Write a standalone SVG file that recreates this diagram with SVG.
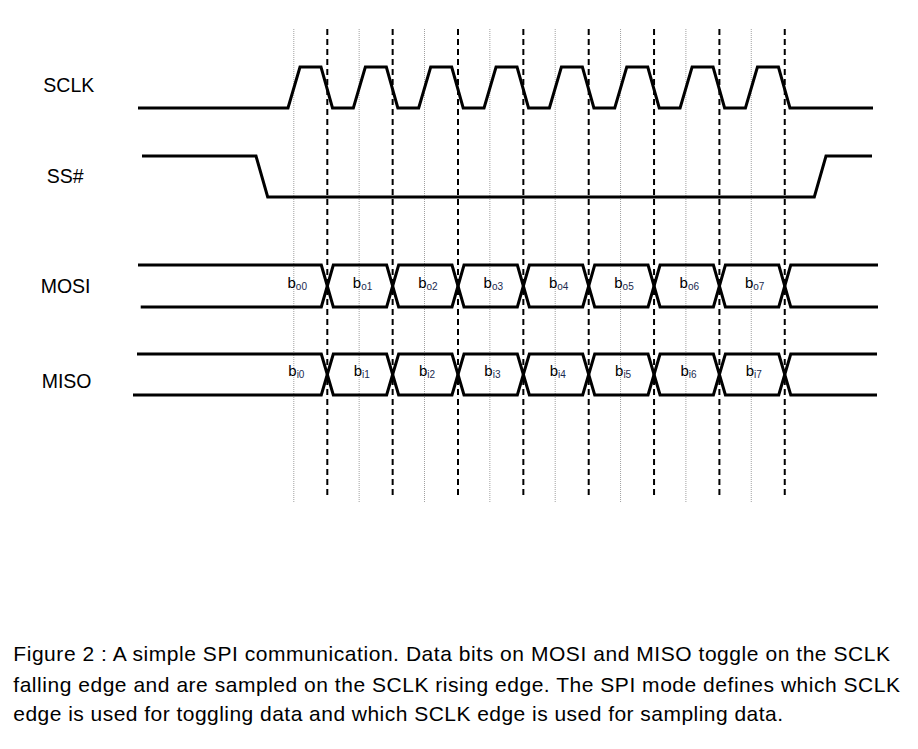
<svg xmlns="http://www.w3.org/2000/svg" width="918" height="749" viewBox="0 0 918 749">
<style>
.sig{fill:none;stroke:#000;stroke-width:3;stroke-linejoin:miter}
.dash{stroke:#000;stroke-width:2;stroke-dasharray:6 4}
.dot{stroke:#a0a0a0;stroke-width:1;stroke-dasharray:1 1}
.lbl{font-family:"Liberation Sans",Arial,sans-serif;font-size:19.5px;fill:#000}
.bit{font-family:"Liberation Sans",Arial,sans-serif;font-size:15px;fill:#000}
.sub{font-size:10px;fill:#1a2a50}
.cap{font-family:"Liberation Sans",Arial,sans-serif;font-size:21px;fill:#000}
</style>
<rect width="918" height="749" fill="#fff"/>
<g id="gridlines">
<g id="sample-lines">
<line class="dot" x1="293.8" y1="29" x2="293.8" y2="502"/>
<line class="dot" x1="359.15" y1="29" x2="359.15" y2="502"/>
<line class="dot" x1="424.5" y1="29" x2="424.5" y2="502"/>
<line class="dot" x1="489.85" y1="29" x2="489.85" y2="502"/>
<line class="dot" x1="555.2" y1="29" x2="555.2" y2="502"/>
<line class="dot" x1="620.55" y1="29" x2="620.55" y2="502"/>
<line class="dot" x1="685.9" y1="29" x2="685.9" y2="502"/>
<line class="dot" x1="751.25" y1="29" x2="751.25" y2="502"/>
</g>
<g id="toggle-lines">
<line class="dash" x1="327.3" y1="29" x2="327.3" y2="499"/>
<line class="dash" x1="392.65" y1="29" x2="392.65" y2="499"/>
<line class="dash" x1="458" y1="29" x2="458" y2="499"/>
<line class="dash" x1="523.35" y1="29" x2="523.35" y2="499"/>
<line class="dash" x1="588.7" y1="29" x2="588.7" y2="499"/>
<line class="dash" x1="654.05" y1="29" x2="654.05" y2="499"/>
<line class="dash" x1="719.4" y1="29" x2="719.4" y2="499"/>
<line class="dash" x1="784.75" y1="29" x2="784.75" y2="499"/>
</g>
</g>
<g id="sclk">
<text class="lbl" x="43.3" y="92.3">SCLK</text>
<path class="sig" d="M138,108 H288 L300,67 H321 L332.5,108 H353.35 L365.35,67 H386.35 L397.85,108 H418.7 L430.7,67 H451.7 L463.2,108 H484.05 L496.05,67 H517.05 L528.55,108 H549.4 L561.4,67 H582.4 L593.9,108 H614.75 L626.75,67 H647.75 L659.25,108 H680.1 L692.1,67 H713.1 L724.6,108 H745.45 L757.45,67 H778.45 L789.95,108 H873"/>
</g>
<g id="ss">
<text class="lbl" x="46.7" y="183.3">SS#</text>
<path class="sig" d="M142,156 H256 L267.7,197 H814.3 L826,156 H872"/>
</g>
<g id="mosi">
<text class="lbl" x="40.7" y="292.7">MOSI</text>
<path class="sig" d="M138,265 H321.3 L333.3,307 H386.65 L398.65,265 H452 L464,307 H517.35 L529.35,265 H582.7 L594.7,307 H648.05 L660.05,265 H713.4 L725.4,307 H778.75 L790.75,265 H878"/>
<path class="sig" d="M140.7,307 H321.3 L333.3,265 H386.65 L398.65,307 H452 L464,265 H517.35 L529.35,307 H582.7 L594.7,265 H648.05 L660.05,307 H713.4 L725.4,265 H778.75 L790.75,307 H878"/>
<text class="bit" x="287.5" y="288">b<tspan class="sub" dy="2">o0</tspan></text>
<text class="bit" x="352.85" y="288">b<tspan class="sub" dy="2">o1</tspan></text>
<text class="bit" x="418.2" y="288">b<tspan class="sub" dy="2">o2</tspan></text>
<text class="bit" x="483.55" y="288">b<tspan class="sub" dy="2">o3</tspan></text>
<text class="bit" x="548.9" y="288">b<tspan class="sub" dy="2">o4</tspan></text>
<text class="bit" x="614.25" y="288">b<tspan class="sub" dy="2">o5</tspan></text>
<text class="bit" x="679.6" y="288">b<tspan class="sub" dy="2">o6</tspan></text>
<text class="bit" x="744.95" y="288">b<tspan class="sub" dy="2">o7</tspan></text>
</g>
<g id="miso">
<text class="lbl" x="41.7" y="388.3">MISO</text>
<path class="sig" d="M137,354 H321.3 L333.3,395 H386.65 L398.65,354 H452 L464,395 H517.35 L529.35,354 H582.7 L594.7,395 H648.05 L660.05,354 H713.4 L725.4,395 H778.75 L790.75,354 H877"/>
<path class="sig" d="M133,395 H321.3 L333.3,354 H386.65 L398.65,395 H452 L464,354 H517.35 L529.35,395 H582.7 L594.7,354 H648.05 L660.05,395 H713.4 L725.4,354 H778.75 L790.75,395 H877"/>
<text class="bit" x="288.3" y="376">b<tspan class="sub" dy="2">i0</tspan></text>
<text class="bit" x="353.65" y="376">b<tspan class="sub" dy="2">i1</tspan></text>
<text class="bit" x="419" y="376">b<tspan class="sub" dy="2">i2</tspan></text>
<text class="bit" x="484.35" y="376">b<tspan class="sub" dy="2">i3</tspan></text>
<text class="bit" x="549.7" y="376">b<tspan class="sub" dy="2">i4</tspan></text>
<text class="bit" x="615.05" y="376">b<tspan class="sub" dy="2">i5</tspan></text>
<text class="bit" x="680.4" y="376">b<tspan class="sub" dy="2">i6</tspan></text>
<text class="bit" x="745.75" y="376">b<tspan class="sub" dy="2">i7</tspan></text>
</g>
<g id="caption">
<text class="cap" x="13.3" y="660.7" textLength="876.7" lengthAdjust="spacing">Figure 2 : A simple SPI communication. Data bits on MOSI and MISO toggle on the SCLK</text>
<text class="cap" x="13.3" y="691.7" textLength="886.7" lengthAdjust="spacing">falling edge and are sampled on the SCLK rising edge. The SPI mode defines which SCLK</text>
<text class="cap" x="13.3" y="720.7" textLength="769.7" lengthAdjust="spacing">edge is used for toggling data and which SCLK edge is used for sampling data.</text>
</g>
</svg>
